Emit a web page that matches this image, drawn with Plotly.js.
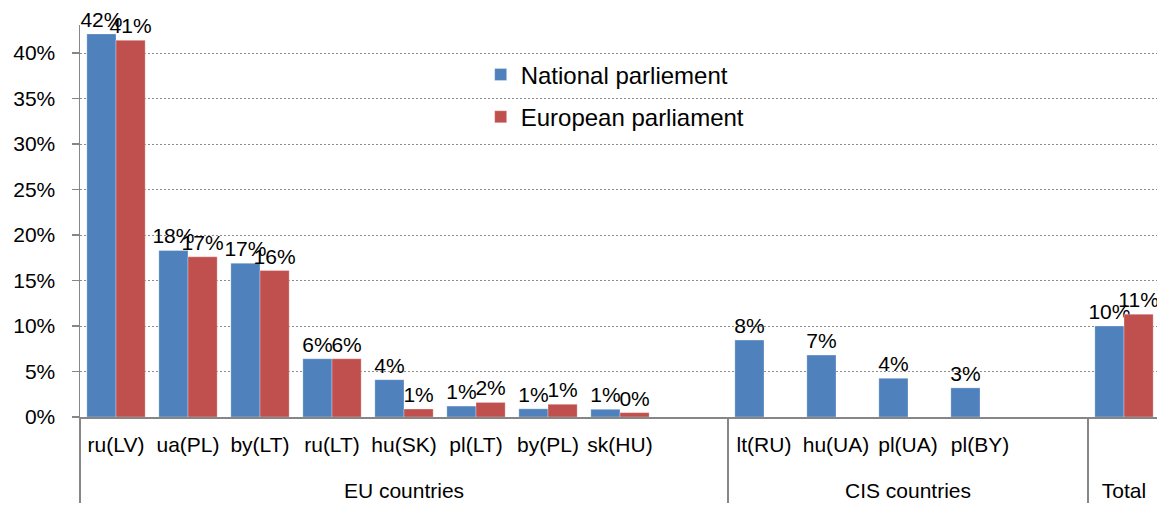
<!DOCTYPE html>
<html>
<head>
<meta charset="utf-8">
<script src="https://cdn.plot.ly/plotly-3.0.1.min.js"></script>
<style>
  html, body { margin: 0; padding: 0; background: #fff; overflow: hidden; }
  #chart { width: 1157px; height: 509px; overflow: hidden; }
</style>
</head>
<body>
<div id="chart"></div>
<script>
// Multi-level categories (outer group, inner country pair)
const groups = [
    'EU countries', 'EU countries', 'EU countries', 'EU countries', 'EU countries',
    'EU countries', 'EU countries', 'EU countries', 'EU countries',
    'CIS countries', 'CIS countries', 'CIS countries', 'CIS countries', 'CIS countries',
    'Total'
];
// blank slots need distinct names or plotly merges them
const countries = [
    'ru(LV)', 'ua(PL)', 'by(LT)', 'ru(LT)', 'hu(SK)', 'pl(LT)', 'by(PL)', 'sk(HU)', ' ',
    'lt(RU)', 'hu(UA)', 'pl(UA)', 'pl(BY)', '  ',
    '   '
];

// Shares in percent
const nationalParliament = [42.1, 18.3, 16.9, 6.4, 4.1, 1.2, 0.9, 0.85, null, 8.45, 6.8, 4.25, 3.2, null, 10.0];
const europeanParliament = [41.4, 17.6, 16.1, 6.4, 0.88, 1.6, 1.4, 0.48, null, null, null, null, null, null, 11.3];

const nationalLabels = ['42%', '18%', '17%', '6%', '4%', '1%', '1%', '1%', '', '8%', '7%', '4%', '3%', '', '10%'];
const europeanLabels = ['41%', '17%', '16%', '6%', '1%', '2%', '1%', '0%', '', '', '', '', '', '', '11%'];

const FONT = '"Liberation Sans", Arial, sans-serif';
const AXIS_GREY = '#868686';

// extra empty line under each inner label pushes the group row down
const innerLabels = countries.map(function(c) {
    return c + '<br><span style="font-size:27px">&nbsp;</span>';
});

function makeBarTrace(name, values, labels, color, group) {
    return {
        type: 'bar',
        name: name,
        x: [groups, innerLabels],
        y: values,
        text: labels,
        textposition: 'outside',
        constraintext: 'none',
        cliponaxis: false,
        textfont: { family: FONT, size: 21, color: '#000' },
        marker: { color: color, line: { width: 0.6, color: 'rgba(255,255,255,0.5)' } },
        legendgroup: group,
        hoverinfo: 'skip'
    };
}

const data = [
    makeBarTrace('National parliement', nationalParliament, nationalLabels, '#4F81BD', 'a'),
    makeBarTrace('European parliament', europeanParliament, europeanLabels, '#C0504D', 'b')
];

// short separators between inner categories, drawn as ticks of an overlay axis
const boundaryTicks = countries.slice(1).map(function(c, i) { return i + 1; });

const layout = {
    width: 1160,
    height: 509,
    margin: { l: 80, r: 0, t: 25, b: 92 },
    paper_bgcolor: '#fff',
    plot_bgcolor: '#fff',
    font: { family: FONT, size: 21, color: '#000' },
    barmode: 'group',
    bargap: 0.19,
    bargroupgap: 0,
    showlegend: true,
    legend: {
        x: 0.371, y: 0.93, xanchor: 'left', yanchor: 'top',
        font: { family: FONT, size: 24, color: '#000' },
        bgcolor: 'rgba(0,0,0,0)',
        tracegroupgap: 8
    },
    xaxis: {
        type: 'multicategory',
        showline: true,
        linecolor: AXIS_GREY,
        linewidth: 1.5,
        ticks: '',
        tickangle: 0,
        showgrid: false,
        showdividers: true,
        dividercolor: AXIS_GREY,
        dividerwidth: 1.5,
        ticklabelstandoff: 8,
        tickfont: { family: FONT, size: 21, color: '#000' }
    },
    xaxis2: {
        overlaying: 'x',
        anchor: 'y',
        side: 'bottom',
        range: [0, countries.length],
        tickvals: boundaryTicks,
        ticks: 'outside',
        ticklen: 45,
        tickwidth: 1.5,
        tickcolor: AXIS_GREY,
        showticklabels: false,
        showgrid: false,
        zeroline: false,
        showline: false
    },
    yaxis: {
        range: [0, 43.08],
        dtick: 5,
        ticksuffix: '%',
        showline: true,
        linecolor: AXIS_GREY,
        linewidth: 1.5,
        ticks: 'outside',
        ticklen: 7,
        tickwidth: 1.5,
        tickcolor: AXIS_GREY,
        ticklabelstandoff: 12,
        zeroline: false,
        showgrid: true,
        gridcolor: '#8c8c8c',
        gridwidth: 1,
        griddash: '2px,2px',
        tickfont: { family: FONT, size: 21, color: '#000' }
    }
};

Plotly.newPlot('chart', data, layout, { displayModeBar: false, staticPlot: true });
</script>
</body>
</html>
